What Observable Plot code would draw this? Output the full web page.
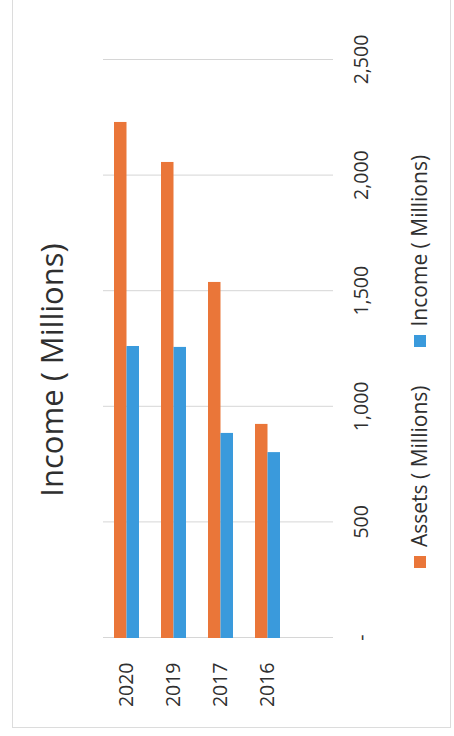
<!DOCTYPE html>
<html>
<head>
<meta charset="utf-8">
<script src="https://cdn.jsdelivr.net/npm/d3@7"></script>
<script src="https://cdn.jsdelivr.net/npm/@observablehq/plot@0.6"></script>
<style>
  html, body { margin: 0; padding: 0; background: #ffffff; overflow: hidden; width: 454px; height: 736px; }
  #fig {
    position: absolute; left: 0; top: 0;
    width: 736px; height: 454px;
    transform-origin: 0 0;
    transform: translate(0px, 736px) rotate(-90deg);
    font-family: "Open Sans", Lato, sans-serif;
    color: #2f2f2f;
  }
  #frame {
    position: absolute; left: 8px; top: 12px; width: 780px; height: 439px;
    border: 1px solid #dcdcdc; box-sizing: border-box;
  }
  #title {
    position: absolute; left: 0; top: 35.5px; width: 732px;
    text-align: center; font-size: 31px; line-height: 1; white-space: nowrap;
  }
  #chart { position: absolute; left: 0; top: 0; }
  #legend {
    position: absolute; left: 168px; top: 409px;
    display: flex; align-items: center; font-size: 21px; line-height: 1; white-space: nowrap;
  }
  .item { display: flex; align-items: center; margin-right: 38px; }
  .sw { width: 12px; height: 12px; margin-right: 9px; }
</style>
</head>
<body>
<div id="fig">
  <div id="frame"></div>
  <div id="chart"></div>
  <div id="title"></div>
  <div id="legend"></div>
</div>
<script>
const title = "Income ( Millions)";
const years = ["2020", "2019", "2017", "2016"];
const seriesNames = ["Assets ( Millions)", "Income ( Millions)"];
const assets = [2232, 2059, 1540, 926];
const income = [1263, 1259, 887, 804];
const xTicks = [0, 500, 1000, 1500, 2000, 2500];
const colors = ["#EA7639", "#3A9ADC"];

const assetRows = years.map((y, i) => ({year: y, series: seriesNames[0], value: assets[i]}));
const incomeRows = years.map((y, i) => ({year: y, series: seriesNames[1], value: income[i]}));
const fmt = d => d === 0 ? "-" : d3.format(",")(d);

const chart = Plot.plot({
  width: 736,
  height: 454,
  marginLeft: 98,
  marginRight: 60,
  marginTop: 103,
  marginBottom: 121,
  style: {fontFamily: "'Open Sans', Lato, sans-serif", fontSize: "19.5px", color: "#2f2f2f", background: "transparent", overflow: "visible"},
  x: {domain: [0, 2500], ticks: 5, tickFormat: fmt, tickSize: 0, tickPadding: 21, label: null},
  y: {domain: years, range: [103, 291], paddingInner: 0.468, paddingOuter: 0.234, tickSize: 0, tickPadding: 25, label: null},
  color: {domain: seriesNames, range: colors},
  marks: [
    Plot.ruleX(xTicks, {stroke: "#d6d6d6", strokeWidth: 1}),
    Plot.barX(assetRows, {x: "value", y: "year", fill: "series", insetBottom: 12.5}),
    Plot.barX(incomeRows, {x: "value", y: "year", fill: "series", insetTop: 12.5})
  ]
});
document.getElementById("chart").appendChild(chart);

document.getElementById("title").textContent = title;

const legend = d3.select("#legend");
seriesNames.forEach((name, i) => {
  const item = legend.append("div").attr("class", "item");
  item.append("div").attr("class", "sw").style("background", colors[i]);
  item.append("span").text(name);
});
</script>
</body>
</html>
